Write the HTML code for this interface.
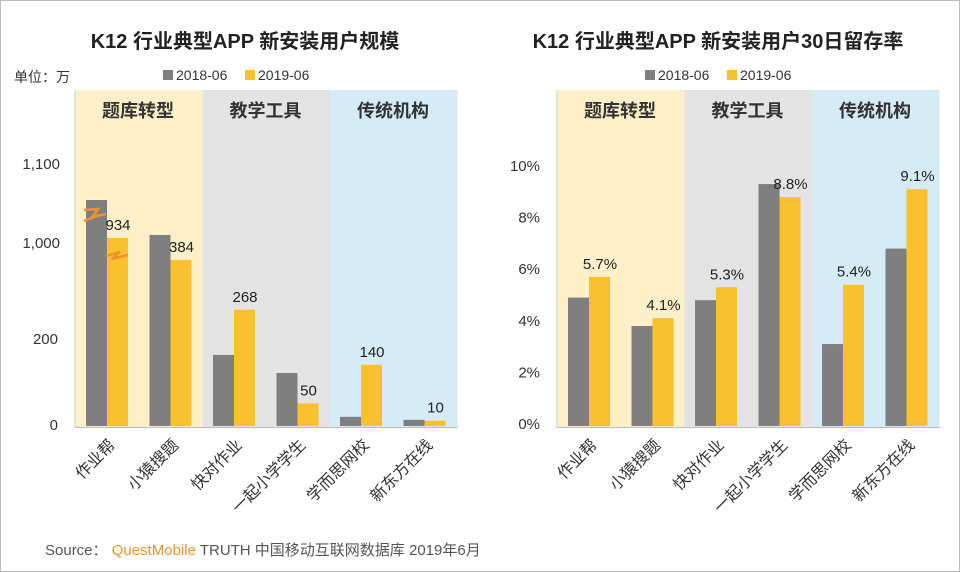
<!DOCTYPE html>
<html><head><meta charset="utf-8"><style>
body{margin:0;background:#fff}
svg{display:block;font-family:"Liberation Sans","Noto Sans CJK SC",sans-serif}
</style></head><body>
<svg width="960" height="572" viewBox="0 0 960 572">
<rect x="0.5" y="0.5" width="959" height="571" fill="#fff" stroke="#bbb"/>
<g id="left"></g>
<g id="right"></g>
<text x="45" y="555" font-size="15" fill="#555">Source： <tspan fill="#f0922a">QuestMobile</tspan> TRUTH 中国移动互联网数据库 2019年6月</text>
</svg>
<script>
const categories=["作业帮","小猿搜题","快对作业","一起小学学生","学而思网校","新东方在线"];
const installs2018=[1010,442,163,121,19,12];
const installs2019=[934,384,268,50,140,10];
const installLabels=["934","384","268","50","140","10"];
const retention2018=[4.9,3.8,4.8,9.3,3.1,6.8];
const retention2019=[5.7,4.1,5.3,8.8,5.4,9.1];
const leftTicks=[0,200];
const rightTicks=[0,2,4,6,8,10];
const groups=["题库转型","教学工具","传统机构"];
const NS="http://www.w3.org/2000/svg";
function mk(p,t,a,txt){const e=document.createElementNS(NS,t);for(const k in a)e.setAttribute(k,a[k]);if(txt!==undefined)e.textContent=txt;p.appendChild(e);return e;}
const GRAY="#7f7f7f",YEL="#fbc02d";
const bandColors=["#fdf0c9","#e3e3e3","#d5ecf6"];
function drawFrame(g,x0,title,tx){
  mk(g,"text",{x:tx,y:48,"font-size":20,"font-weight":"bold","text-anchor":"middle",fill:"#222",},title);
  for(let i=0;i<3;i++){
    const b=mk(g,"rect",{x:x0+i*127.5,y:90,width:127.5,height:338,fill:bandColors[i]});
    
    
    const t=mk(g,"text",{x:x0+i*127.5+63,y:117,"font-size":18,"font-weight":"bold","text-anchor":"middle",fill:"#333"},groups[i]);
    
    
  }
  const lx=x0+88;
  mk(g,"rect",{x:lx,y:70,width:10,height:10,fill:GRAY,});
  mk(g,"text",{x:lx+13,y:80,"font-size":14,fill:"#333",},"2018-06");
  mk(g,"rect",{x:lx+82,y:70,width:10,height:10,fill:YEL,});
  mk(g,"text",{x:lx+95,y:80,"font-size":14,fill:"#333",},"2019-06");
  mk(g,"line",{x1:x0,y1:90,x2:x0,y2:428,stroke:"#ccc",});
  mk(g,"line",{x1:x0,y1:427.5,x2:x0+383,y2:427.5,stroke:"#bbb",});
}
function drawBars(g,x0,a,b,yf,labels){
  for(let i=0;i<categories.length;i++){
    const cx=x0+33+i*63.5;
    const y1=yf(a[i]),y2=yf(b[i]);
    const r1=mk(g,"rect",{x:cx-22,y:y1,width:21,height:426-y1,fill:GRAY});
    
    
    const r2=mk(g,"rect",{x:cx-1,y:y2,width:21,height:426-y2,fill:YEL});
    
    
    const t=mk(g,"text",{x:cx+10,y:y2-8,"font-size":15,"text-anchor":"middle",fill:"#222"},labels[i]);
    
    
    const c=mk(g,"text",{x:cx+8,y:446,"font-size":16,"text-anchor":"end",fill:"#333",transform:`rotate(-45 ${cx+8} 446)`},categories[i]);
    
    
  }
}
const L=document.getElementById("left");
drawFrame(L,75,"K12 行业典型APP 新安装用户规模",245);
mk(L,"text",{x:14,y:82,"font-size":14,fill:"#333",},"单位：万");
function yL(v){return v<=450?425-v*0.43:238-(v-934)*0.5;}
leftTicks.forEach(t=>{const e=mk(L,"text",{x:58,y:yL(t)+5,"font-size":15,"text-anchor":"end",fill:"#333"},String(t));});
mk(L,"text",{x:60,y:169,"font-size":15,"text-anchor":"end",fill:"#333",},"1,100");
mk(L,"text",{x:60,y:248,"font-size":15,"text-anchor":"end",fill:"#333",},"1,000");
drawBars(L,75,installs2018,installs2019,yL,installLabels);
mk(L,"path",{d:"M84 210 L98 209 L92 217 L106 214 M84 221 L100 215",stroke:"#f0922a","stroke-width":2.5,fill:"none",});
mk(L,"path",{d:"M106 256 L120 252 L112 259 L128 255",stroke:"#f0922a","stroke-width":2.5,fill:"none",});
const R=document.getElementById("right");
drawFrame(R,557,"K12 行业典型APP 新安装用户30日留存率",718);
function yR(v){return 424-v*25.8;}
rightTicks.forEach(t=>{const e=mk(R,"text",{x:540,y:yR(t)+5,"font-size":15,"text-anchor":"end",fill:"#333"},t+"%");});
drawBars(R,557,retention2018,retention2019,yR,retention2019.map(v=>v.toFixed(1)+"%"));
</script>
</body></html>
